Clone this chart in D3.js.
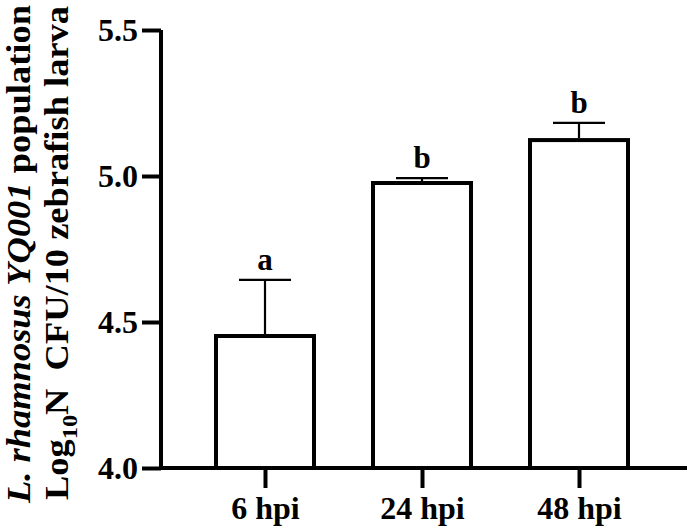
<!DOCTYPE html>
<meta charset="utf-8">
<style>
    body { margin: 0; background: #fff; }
    text {
        font-family: "Liberation Serif", "Times New Roman", serif;
        font-weight: bold;
        fill: #000;
    }
</style>

<svg width="687" height="530"></svg>

<script src="https://cdn.jsdelivr.net/npm/d3@7"></script>
<script>
    var categories = ["6 hpi", "24 hpi", "48 hpi"],
        means = [4.452, 4.976, 5.123],
        errors = [0.192, 0.017, 0.059],
        letters = ["a", "b", "b"],
        yTicks = [4.0, 4.5, 5.0, 5.5];

    (function () {
        var svg = d3.select("svg"),
            axisX = 161,
            baseY = 468,
            topY = 30,
            barWidth = 98,
            capHalf = 26;

        var y = d3.scaleLinear().domain([4.0, 5.5]).range([baseY, topY]);
        var x = d3.scalePoint().domain(categories).range([265, 579]);

        // bars
        svg.append("g")
            .selectAll("rect")
            .data(means)
            .enter()
            .append("rect")
            .attr("x", function (d, i) { return x(categories[i]) - barWidth / 2; })
            .attr("y", function (d) { return y(d); })
            .attr("width", barWidth)
            .attr("height", function (d) { return baseY - y(d); })
            .attr("fill", "#fff")
            .attr("stroke", "#000")
            .attr("stroke-width", 4);

        // error bars (upper only)
        var err = svg.append("g").attr("stroke", "#000").attr("stroke-width", 2.2);
        means.forEach(function (m, i) {
            var cx = x(categories[i]);
            err.append("line")
                .attr("x1", cx).attr("x2", cx)
                .attr("y1", y(m) - 2).attr("y2", y(m + errors[i]));
            err.append("line")
                .attr("x1", cx - capHalf).attr("x2", cx + capHalf)
                .attr("y1", y(m + errors[i])).attr("y2", y(m + errors[i]));
        });

        // significance letters
        svg.append("g")
            .selectAll("text")
            .data(letters)
            .enter()
            .append("text")
            .attr("x", function (d, i) { return x(categories[i]); })
            .attr("y", function (d, i) { return y(means[i] + errors[i]) - 10; })
            .attr("text-anchor", "middle")
            .style("font-size", "31px")
            .text(function (d) { return d; });

        // y axis
        var yAxis = svg.append("g")
            .attr("transform", "translate(" + axisX + ",0)")
            .call(d3.axisLeft(y).tickValues(yTicks).tickFormat(d3.format(".1f")).tickSize(19).tickPadding(4));
        yAxis.select(".domain").attr("stroke-width", 4).attr("d", "M0," + topY + "V" + (baseY + 2));
        yAxis.selectAll(".tick line").attr("stroke-width", 4);
        yAxis.selectAll(".tick text")
            .style("font-size", "32px")
            .attr("font-family", null)
            .attr("dy", "0.34em");

        // x axis
        var xAxis = svg.append("g")
            .attr("transform", "translate(0," + baseY + ")")
            .call(d3.axisBottom(x).tickSize(20).tickPadding(8));
        xAxis.select(".domain").attr("stroke-width", 4).attr("d", "M" + (axisX - 2) + ",0H687");
        xAxis.selectAll(".tick line").attr("stroke-width", 4);
        xAxis.selectAll(".tick text")
            .style("font-size", "32px")
            .attr("font-family", null);

        // y axis title, two lines
        var title1 = svg.append("text")
            .attr("transform", "translate(30,254) rotate(-90)")
            .attr("text-anchor", "middle")
            .attr("textLength", 498)
            .attr("lengthAdjust", "spacingAndGlyphs")
            .style("font-size", "33px");
        title1.append("tspan").style("font-style", "italic").text("L. rhamnosus YQ001");
        title1.append("tspan").text(" population");

        var title2 = svg.append("text")
            .attr("transform", "translate(68,253) rotate(-90)")
            .attr("text-anchor", "middle")
            .attr("textLength", 494)
            .attr("lengthAdjust", "spacingAndGlyphs")
            .style("font-size", "33px");
        title2.append("tspan").text("Log");
        title2.append("tspan").attr("dy", 9).style("font-size", "22px").text("10");
        title2.append("tspan").attr("dy", -9).text("N\u00a0 CFU/10 zebrafish larva");
    })();
</script>
